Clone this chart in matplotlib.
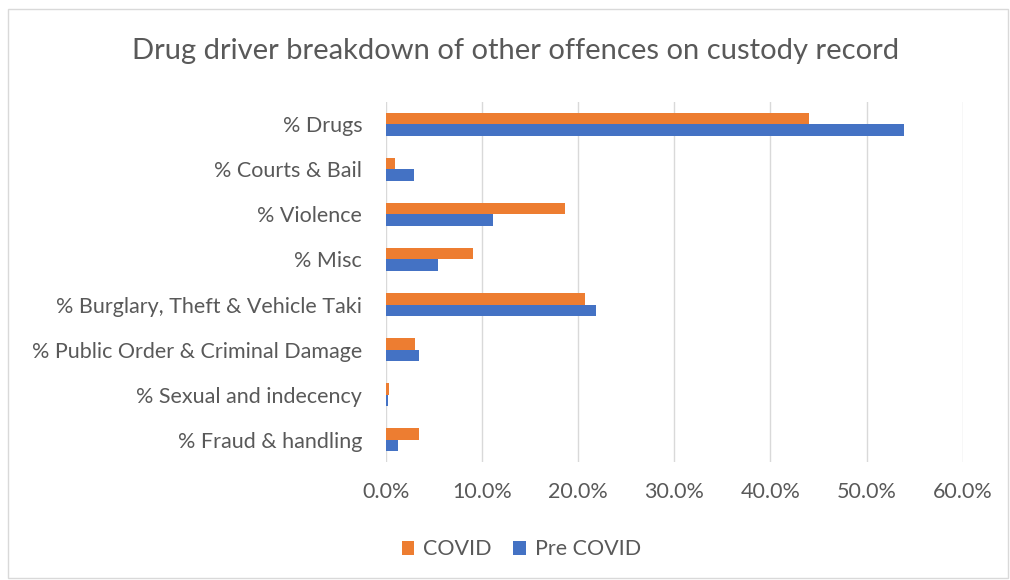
import matplotlib.pyplot as plt
from matplotlib.patches import Rectangle
from matplotlib.ticker import PercentFormatter
import numpy as np

# offence categories, listed bottom to top
categories = ["% Fraud & handling", "% Sexual and indecency",
              "% Public Order & Criminal Damage", "% Burglary, Theft & Vehicle Taki",
              "% Misc", "% Violence", "% Courts & Bail", "% Drugs"]
covid = [3.4, 0.3, 3.0, 20.7, 9.1, 18.6, 1.0, 44.0]
pre_covid = [1.3, 0.2, 3.5, 21.9, 5.4, 11.1, 2.9, 53.9]

plt.rcParams['font.family'] = ['Lato', 'DejaVu Sans']
text_col = "#595959"

fig = plt.figure(figsize=(10.1, 5.8), dpi=100)
ax = fig.add_axes([0.382, 0.2026, 0.5713, 0.6224])

# chart border
fig.patches.append(Rectangle((0.008, 0.003), 0.99, 0.982, transform=fig.transFigure,
                             fill=False, edgecolor="#D9D9D9", linewidth=1))

y = np.arange(len(categories))
h = 0.255
ax.barh(y + h / 2, covid, height=h, color="#ED7D31", label="COVID", zorder=3)
ax.barh(y - h / 2, pre_covid, height=h, color="#4472C4", label="Pre COVID", zorder=3)

ax.set_xlim(0, 60)
ax.set_ylim(-0.5, len(categories) - 0.5)
ax.set_xticks(np.arange(0, 61, 10))
ax.xaxis.set_major_formatter(PercentFormatter(decimals=1))
ax.set_yticks(y)
ax.set_yticklabels(categories)
ax.tick_params(axis="both", length=0, labelsize=15.5, labelcolor=text_col)
ax.tick_params(axis="x", pad=14)
ax.tick_params(axis="y", pad=17)
ax.grid(axis="x", color="#D9D9D9", linewidth=1, zorder=0)
for s in ax.spines.values():
    s.set_visible(False)

fig.suptitle("Drug driver breakdown of other offences on custody record",
             x=0.51, y=0.935, fontsize=21, color=text_col)

ax.legend(loc="center", bbox_to_anchor=(0.516, 0.053), bbox_transform=fig.transFigure,
          ncol=2, frameon=False, fontsize=15.5, labelcolor=text_col,
          handlelength=0.6, handleheight=0.6, handletextpad=0.4, columnspacing=1.0)

fig.savefig("out.png")
